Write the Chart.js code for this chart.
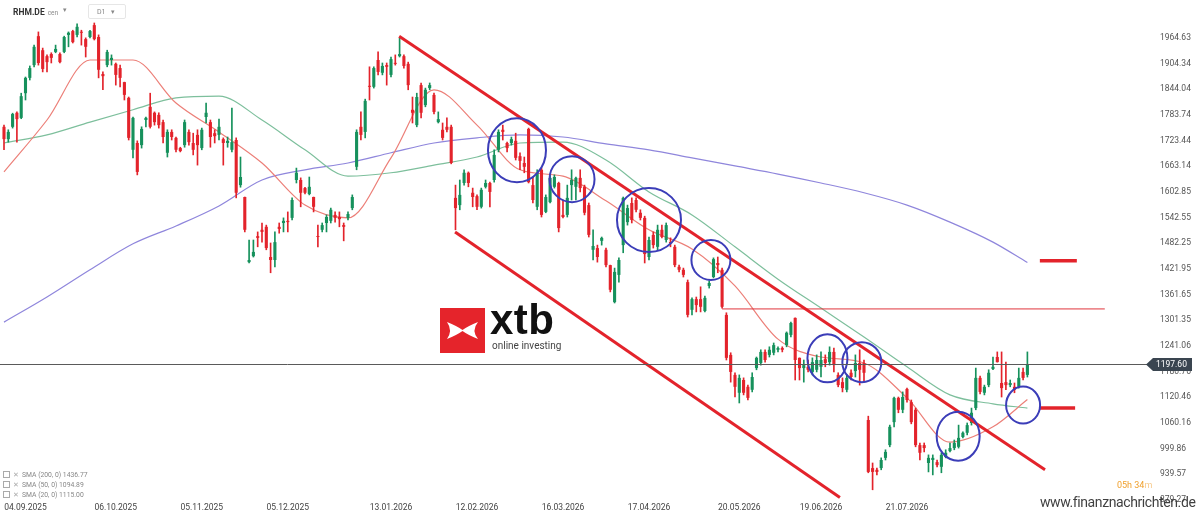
<!DOCTYPE html>
<html>
<head>
<meta charset="utf-8">
<script src="https://cdn.jsdelivr.net/npm/chart.js@4.4.1/dist/chart.umd.min.js"></script>
<style>
  html, body { margin: 0; padding: 0; background: #fff; }
  #wrap { position: relative; width: 1200px; height: 517px; overflow: hidden; font-family: Roboto, "Noto Sans", sans-serif; }
  #chart { position: absolute; left: 0; top: 0; }
  .abs { position: absolute; white-space: nowrap; }
  #sym { left: 13px; top: 7px; font-size: 8.5px; font-weight: bold; color: #333; }
  #sym span { font-weight: normal; color: #888; font-size: 6.5px; margin-left: 3px; }
  #symdd { left: 63px; top: 6px; font-size: 7px; color: #888; }
  #tf { left: 88px; top: 4px; width: 38px; height: 15px; border: 1px solid #e6e6e6; border-radius: 2px; font-size: 7px; color: #888; line-height: 15px; padding-left: 8px; box-sizing: border-box; }
  .leg { left: 3px; font-size: 6.8px; color: #888; }
  .leg i { display: inline-block; width: 5px; height: 5px; border: 1px solid #aaa; margin-right: 3px; vertical-align: -1px; }
  .leg b { font-weight: normal; color: #aaa; margin-right: 3px; }
  #logo { left: 440px; top: 308px; width: 45px; height: 45px; background: #e5242b; }
  #xtb { left: 490px; top: 296px; font-family: "Liberation Sans", Arial, sans-serif; font-weight: bold; font-size: 42px; color: #111; letter-spacing: 0.5px; }
  #inv { left: 492px; top: 340px; font-size: 10px; color: #444; }
  #timer { left: 1117px; top: 480px; font-size: 9px; color: #f0a02c; }
  #timer span { color: #f7c98a; }
  #wm { left: 1040px; top: 494px; font-size: 14px; color: #2b2b2b; opacity: 0.9; letter-spacing: -0.4px; }
</style>
</head>
<body>
<div id="wrap">
  <canvas id="chart" width="1200" height="517"></canvas>
  <div class="abs" id="sym">RHM.DE<span>cen</span></div>
  <div class="abs" id="symdd">&#9662;</div>
  <div class="abs" id="tf">D1 &nbsp;&nbsp;&#9662;</div>
  <div class="abs leg" style="top:471px"><i></i><b>&#10005;</b>SMA (200, 0) 1436.77</div>
  <div class="abs leg" style="top:481px"><i></i><b>&#10005;</b>SMA (50, 0) 1094.89</div>
  <div class="abs leg" style="top:491px"><i></i><b>&#10005;</b>SMA (20, 0) 1115.00</div>
  <div class="abs" id="logo">
    <svg width="45" height="45" viewBox="0 0 45 45">
      <path d="M7,14 Q17,18 22.5,22 Q28,18 38,14 Q31,22.5 38,31 Q28,27 22.5,23 Q17,27 7,31 Q13,22.5 7,14 Z" fill="#fff"/>
    </svg>
  </div>
  <div class="abs" id="xtb">xtb</div>
  <div class="abs" id="inv">online investing</div>
  <div class="abs" id="timer">05h 34<span>m</span></div>
  <div class="abs" id="wm">www.finanznachrichten.de</div>
</div>

<script>
/* =========================
   Data
========================= */
const open = [
  1756,1727,1756,1789,1777,1835,1871,1901,1969,1936,1922,1927,1932,1927,1932,1972,1981,1972,1979,1962,
  1967,1995,1967,1880,1901,1913,1904,1894,1861,1824,1702,1718,1713,1772,1803,1789,1784,1767,1695,1744,
  1730,1706,1713,1744,1718,1737,1706,1779,1767,1741,1737,1727,1718,1702,1725,1619,1591,1438,1452,1499,
  1514,1521,1450,1443,1521,1530,1535,1542,1631,1631,1612,1598,1591,1499,1514,1530,1535,1549,1544,1525,
  1542,1565,1662,1756,1744,1852,1850,1913,1883,1901,1878,1906,1922,1922,1904,1796,1760,1854,1807,1847,
  1831,1767,1749,1756,1756,1589,1572,1624,1648,1601,1593,1568,1615,1624,1631,1702,1749,1718,1718,1723,
  1687,1671,1751,1619,1568,1655,1556,1579,1615,1624,1549,1549,1619,1615,1636,1615,1572,1467,1471,1488,
  1467,1431,1344,1408,1478,1532,1577,1584,1554,1542,1450,1502,1474,1514,1490,1485,1474,1427,1420,1391,
  1326,1351,1351,1323,1382,1403,1436,1420,1314,1220,1173,1131,1161,1145,1138,1189,1201,1227,1220,1225,
  1232,1236,1243,1267,1307,1213,1189,1192,1180,1185,1192,1210,1203,1227,1173,1156,1138,1178,1182,1201,
  1201,1067,954,950,954,978,1008,1062,1119,1091,1140,1109,1091,1008,1008,966,973,968,957,980,
  994,1001,1004,1027,1037,1060,1095,1166,1131,1149,1187,1215,1154,1156,1149,1145,1145,1180,1173
];
const high = [
  1760,1749,1788,1791,1835,1873,1899,1948,1979,1941,1925,1930,1948,1930,1969,1979,1983,1998,1983,1965,
  1983,2000,1972,1885,1936,1925,1906,1901,1861,1826,1779,1723,1756,1779,1835,1791,1789,1772,1749,1749,
  1732,1708,1772,1749,1741,1749,1753,1812,1772,1749,1774,1730,1732,1800,1730,1685,1591,1490,1490,1509,
  1530,1525,1483,1509,1530,1542,1556,1589,1659,1636,1614,1638,1591,1525,1530,1549,1565,1556,1556,1530,
  1556,1596,1749,1791,1821,1897,1897,1932,1906,1906,1920,1925,1965,1925,1908,1826,1835,1859,1847,1859,
  1835,1791,1765,1777,1760,1619,1631,1655,1650,1612,1596,1612,1631,1626,1702,1749,1760,1720,1732,1741,
  1695,1685,1753,1638,1655,1659,1596,1643,1643,1626,1584,1619,1655,1638,1655,1619,1577,1514,1478,1497,
  1471,1431,1424,1448,1591,1572,1589,1589,1561,1546,1497,1509,1525,1525,1530,1495,1478,1431,1424,1396,
  1354,1356,1380,1358,1394,1448,1450,1424,1319,1225,1178,1173,1166,1149,1178,1215,1232,1232,1239,1248,
  1239,1239,1274,1297,1307,1213,1208,1208,1213,1220,1227,1220,1239,1236,1178,1166,1173,1185,1220,1232,
  1208,1076,966,954,978,997,1055,1121,1121,1133,1142,1114,1095,1013,1013,985,985,973,990,997,
  1013,1020,1055,1039,1060,1095,1189,1170,1149,1185,1215,1227,1227,1203,1161,1154,1189,1189,1227
];
const low = [
  1702,1720,1753,1720,1775,1819,1866,1897,1901,1885,1885,1906,1930,1906,1930,1944,1953,1967,1948,1920,
  1965,1960,1871,1843,1897,1901,1854,1850,1819,1725,1683,1643,1706,1756,1753,1760,1753,1718,1685,1725,
  1697,1697,1708,1713,1690,1666,1702,1765,1708,1718,1725,1666,1708,1697,1589,1614,1509,1436,1450,1474,
  1485,1467,1413,1427,1506,1509,1509,1537,1624,1568,1598,1596,1556,1474,1509,1509,1530,1532,1521,1488,
  1537,1561,1655,1725,1730,1819,1847,1878,1878,1854,1873,1901,1920,1894,1843,1765,1756,1777,1803,1843,
  1786,1765,1725,1744,1669,1514,1561,1619,1615,1568,1561,1565,1612,1568,1626,1697,1725,1697,1713,1678,
  1655,1648,1624,1577,1561,1544,1554,1577,1612,1509,1542,1544,1584,1584,1603,1549,1497,1443,1438,1478,
  1427,1368,1342,1391,1460,1525,1530,1556,1537,1436,1443,1471,1467,1495,1485,1474,1427,1415,1403,1309,
  1314,1321,1321,1321,1377,1401,1413,1330,1208,1156,1121,1107,1126,1114,1133,1185,1196,1203,1215,1220,
  1227,1227,1239,1262,1161,1161,1156,1180,1173,1180,1168,1192,1196,1180,1145,1133,1133,1161,1168,1149,
  1156,943,903,938,950,973,1004,1051,1084,1084,1109,1058,1004,973,992,945,938,957,943,978,
  992,997,1001,1025,1032,1055,1091,1128,1126,1145,1185,1203,1121,1138,1145,1131,1142,1161,1168
];
const close = [
  1727,1744,1786,1774,1828,1871,1894,1944,1906,1892,1908,1918,1939,1908,1967,1977,1955,1991,1977,1944,
  1981,1962,1890,1875,1932,1918,1878,1871,1831,1730,1777,1650,1751,1777,1756,1767,1760,1732,1744,1732,
  1702,1699,1767,1720,1702,1713,1749,1789,1732,1734,1756,1718,1723,1720,1601,1638,1514,1443,1462,1495,
  1509,1471,1443,1485,1516,1535,1532,1584,1648,1601,1601,1615,1568,1497,1525,1544,1561,1542,1539,1521,
  1551,1591,1744,1737,1817,1850,1894,1885,1899,1897,1915,1904,1927,1899,1854,1789,1826,1789,1843,1854,
  1791,1774,1730,1749,1671,1565,1596,1648,1624,1591,1568,1608,1624,1603,1690,1744,1744,1706,1727,1683,
  1676,1662,1626,1584,1648,1549,1591,1636,1638,1518,1544,1589,1631,1636,1612,1554,1502,1476,1450,1495,
  1431,1373,1415,1443,1589,1565,1537,1561,1542,1457,1490,1478,1514,1497,1525,1483,1431,1420,1408,1314,
  1351,1337,1333,1354,1389,1445,1431,1333,1213,1180,1145,1166,1131,1119,1168,1213,1227,1208,1232,1243,
  1236,1232,1272,1295,1208,1189,1196,1185,1203,1208,1208,1201,1227,1196,1149,1142,1166,1168,1201,1185,
  1178,945,945,945,973,992,1051,1119,1091,1121,1114,1062,1008,990,1001,978,978,961,985,990,
  1001,1013,1025,1037,1055,1084,1166,1133,1145,1178,1192,1203,1142,1149,1154,1138,1166,1166,1198
];

// moving averages, sampled every 10 candles
const smaIdx = [0,10,20,30,40,50,60,70,80,90,100,110,120,130,140,150,160,170,180,190,200,210,220,230,238];
const sma200 = [1297,1356,1420,1481,1523,1570,1631,1655,1671,1695,1718,1730,1737,1732,1716,1702,1683,1664,1645,1624,1601,1572,1532,1485,1437];
const sma50  = [1718,1737,1767,1796,1824,1828,1772,1702,1640,1648,1666,1685,1718,1720,1678,1603,1549,1474,1398,1330,1262,1192,1126,1105,1095];
const sma20  = [1650,1772,1913,1913,1812,1744,1671,1572,1542,1683,1843,1760,1655,1640,1582,1514,1469,1382,1257,1215,1201,1119,1015,1051,1115];

// x-axis tick labels
const dateIdx  = [5, 26, 46, 66, 90, 110, 130, 150, 171, 190, 210];
const dateText = ['04.09.2025','06.10.2025','05.11.2025','05.12.2025','13.01.2026','12.02.2026',
                  '16.03.2026','17.04.2026','20.05.2026','19.06.2026','21.07.2026'];

// y-axis tick labels
const priceTicks = [1964.63,1904.34,1844.04,1783.74,1723.44,1663.14,1602.85,1542.55,1482.25,1421.95,
                    1361.65,1301.35,1241.06,1180.76,1120.46,1060.16,999.86,939.57,879.27];

const lastPrice = 1197.60;

// drawn trend lines: [index, price]
const upperChannel = [[91.9, 1969], [242.1, 950]];
const lowerChannel = [[104.9, 1509], [194.4, 885]];
const resistLine   = [[167, 1328], [256, 1328]];
const sma200Mark   = [[240.9, 1441], [249.5, 1441]];
const sma50Mark    = [[240.9, 1095], [249.1, 1095]];

// blue circles: index, price, radius x / y (px)
const circles = [
  [119.3, 1701, 29, 32],
  [132.1, 1633, 22.5, 23],
  [150.0, 1537, 32, 32],
  [164.4, 1443, 19.5, 20],
  [191.5, 1212, 20, 24],
  [199.5, 1203, 19.5, 20],
  [221.9, 1029, 21.5, 24.5],
  [237.0, 1102, 17, 18.5]
];

const GREEN = '#16915c';
const RED = '#e3232b';

/* =========================
   Build datasets
========================= */
const up = i => close[i] >= open[i];
const wickData = open.map((_, i) => ({ x: i, y: [low[i], high[i]] }));
const bodyData = open.map((_, i) => ({ x: i, y: [Math.min(open[i], close[i]), Math.max(open[i], close[i])] }));
const pts = (idx, vals) => idx.map((v, k) => ({ x: v, y: vals[k] }));
const seg = arr => arr.map(p => ({ x: p[0], y: p[1] }));

function lineSet(data, color, width, order) {
    return {
        type: 'line',
        data: data,
        borderColor: color,
        borderWidth: width,
        pointRadius: 0,
        fill: false,
        order: order
    };
}

const overlay = {
    id: 'overlay',
    afterDatasetsDraw(chart) {
        const { ctx, scales: { x, y } } = chart;
        ctx.save();
        ctx.strokeStyle = '#3b3db8';
        ctx.lineWidth = 2;
        circles.forEach(c => {
            ctx.beginPath();
            ctx.ellipse(x.getPixelForValue(c[0]), y.getPixelForValue(c[1]), c[2], c[3], 0, 0, Math.PI * 2);
            ctx.stroke();
        });
        ctx.restore();
    },
    afterDraw(chart) {
        const { ctx, scales: { y } } = chart;
        const py = Math.round(y.getPixelForValue(lastPrice)) + 0.5;
        ctx.save();
        ctx.strokeStyle = '#5a5a5a';
        ctx.lineWidth = 1;
        ctx.beginPath();
        ctx.moveTo(0, py);
        ctx.lineTo(1150, py);
        ctx.stroke();
        // price badge
        ctx.fillStyle = '#3a4550';
        ctx.beginPath();
        ctx.moveTo(1146, py);
        ctx.lineTo(1153, py - 6.5);
        ctx.lineTo(1192, py - 6.5);
        ctx.lineTo(1192, py + 6.5);
        ctx.lineTo(1153, py + 6.5);
        ctx.closePath();
        ctx.fill();
        ctx.fillStyle = '#fff';
        ctx.font = '8.5px Roboto';
        ctx.textBaseline = 'middle';
        ctx.fillText(lastPrice.toFixed(2), 1156, py + 0.5);
        ctx.restore();
    }
};

new Chart(document.getElementById('chart'), {
    type: 'bar',
    data: {
        datasets: [
            lineSet(seg(upperChannel), RED, 3, 1),
            lineSet(seg(lowerChannel), RED, 3, 1),
            lineSet(seg(resistLine), '#e0343c', 1, 1),
            lineSet(seg(sma200Mark), RED, 3.5, 1),
            lineSet(seg(sma50Mark), RED, 3.5, 1),
            {
                data: bodyData,
                backgroundColor: ctx => up(ctx.dataIndex) ? GREEN : RED,
                grouped: false,
                categoryPercentage: 1,
                barPercentage: 0.72,
                minBarLength: 1,
                order: 2
            },
            {
                data: wickData,
                backgroundColor: ctx => up(ctx.dataIndex) ? GREEN : RED,
                grouped: false,
                barThickness: 1,
                order: 3
            },
            Object.assign(lineSet(pts(smaIdx, sma20), '#ec7f78', 1.2, 4), { cubicInterpolationMode: 'monotone' }),
            Object.assign(lineSet(pts(smaIdx, sma50), '#7dbf9c', 1.2, 4), { cubicInterpolationMode: 'monotone' }),
            Object.assign(lineSet(pts(smaIdx, sma200), '#8f86dc', 1.2, 4), { cubicInterpolationMode: 'monotone' })
        ]
    },
    options: {
        responsive: false,
        animation: false,
        events: [],
        layout: { padding: { top: 12, left: 0, right: 0, bottom: 0 } },
        plugins: { legend: { display: false }, tooltip: { enabled: false } },
        scales: {
            x: {
                type: 'linear',
                offset: false,
                min: -0.93,
                max: 268.84,
                grid: { display: false, drawTicks: false },
                border: { display: false },
                afterFit: s => { s.height = 15; },
                afterBuildTicks: s => { s.ticks = dateIdx.map(v => ({ value: v })); },
                ticks: {
                    autoSkip: false,
                    maxRotation: 0,
                    padding: 1,
                    color: '#444',
                    font: { family: 'Roboto', size: 8.5 },
                    callback: v => dateText[dateIdx.indexOf(v)]
                }
            },
            y: {
                position: 'right',
                min: 874.3,
                max: 2025.8,
                grid: { display: false, drawTicks: false },
                border: { display: false },
                afterFit: s => { s.width = 40; },
                afterBuildTicks: s => { s.ticks = priceTicks.map(v => ({ value: v })); },
                ticks: {
                    padding: 0,
                    color: '#555',
                    font: { family: 'Roboto', size: 8.5 },
                    callback: v => v.toFixed(2)
                }
            }
        }
    },
    plugins: [overlay]
});
</script>
</body>
</html>
